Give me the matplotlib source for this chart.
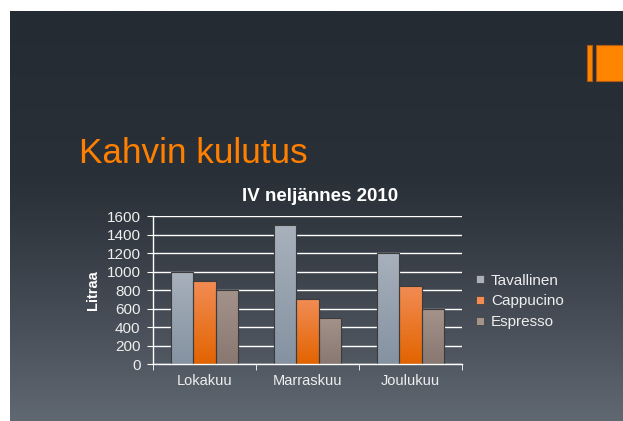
import numpy as np
import matplotlib
matplotlib.use("Agg")
import matplotlib.pyplot as plt
from matplotlib.patches import Rectangle
from matplotlib.lines import Line2D
from matplotlib.colors import LinearSegmentedColormap

plt.rcParams['font.family'] = ['Liberation Sans', 'DejaVu Sans']

# ---- data ----
months = ["Lokakuu", "Marraskuu", "Joulukuu"]
series_names = ["Tavallinen", "Cappucino", "Espresso"]
tavallinen = [1000, 1500, 1200]
cappucino = [900, 700, 850]
espresso = [800, 500, 600]
yticks = [0, 200, 400, 600, 800, 1000, 1200, 1400, 1600]
slide_title = "Kahvin kulutus"
chart_title = "IV neljännes 2010"
y_label = "Litraa"

W, H = 623, 421
fig = plt.figure(figsize=(W / 100, H / 100), dpi=100)
fig.patch.set_facecolor("white")

# ---- slide background ----
bg = fig.add_axes([0, 0, 1, 1])
bg.set_xlim(0, W)
bg.set_ylim(H, 0)
bg.axis("off")
ys = np.linspace(0, 1, 256)
top = np.array([37, 43, 51]) / 255
mid = np.array([42, 48, 56]) / 255
bot = np.array([96, 104, 114]) / 255
grad = np.zeros((256, 1, 3))
for i, t in enumerate(ys):
    if t < 0.4:
        c = top + (mid - top) * (t / 0.4)
    else:
        c = mid + (bot - mid) * ((t - 0.4) / 0.6) ** 1.2
    grad[i, 0, :] = c
bg.imshow(grad, extent=(10, W, H, 11), aspect="auto", interpolation="bilinear", zorder=0)
bg.add_patch(Rectangle((586.7, 45.3), 5.6, 35.4, facecolor="#ff8500", edgecolor="#b05a10", lw=0.8, zorder=2))
bg.add_patch(Rectangle((595.7, 45.3), 30, 35.4, facecolor="#ff8500", edgecolor="#b05a10", lw=0.8, zorder=2))
bg.text(79, 163.3, slide_title, color="#ff8000", fontsize=25.3, va="baseline", ha="left", zorder=3)

# ---- chart ----
ax = fig.add_axes([153 / W, 1 - 364.3 / H, 309 / W, 148.3 / H])
ax.set_facecolor("none")
x = np.arange(len(months))
bw = 0.215
off = 0.22

grads = [
    ("#a8b1bc", "#8592a1"),
    ("#f28c55", "#e26400"),
    ("#a3938b", "#887871"),
]
ax.set_xlim(-0.5, 2.5)
ax.set_ylim(0, 1600)
for k, (vals, (c1, c2)) in enumerate(zip([tavallinen, cappucino, espresso], grads)):
    bars = ax.bar(x + (k - 1) * off, vals, width=bw, color=c2, edgecolor="#3c3c3c", lw=0.8, zorder=3)
    cmap = LinearSegmentedColormap.from_list("g%d" % k, [c2, c1])
    for b in bars:
        x0, y0 = b.get_x(), b.get_y()
        w, h = b.get_width(), b.get_height()
        im = ax.imshow(np.linspace(0, 1, 100).reshape(-1, 1), cmap=cmap, origin="lower",
                       extent=(x0, x0 + w, y0, y0 + h), aspect="auto", zorder=3.5)
        im.set_clip_path(b)
        ax.add_patch(Rectangle((x0, y0), w, h, fill=False, edgecolor="#3c3c3c", lw=0.8, zorder=4))
ax.set_xlim(-0.5, 2.5)
ax.set_ylim(0, 1600)

ax.set_yticks(yticks)
ax.set_yticklabels([str(v) for v in yticks])
ax.yaxis.grid(True, color="white", lw=1, zorder=1)
ax.set_axisbelow(True)
ax.set_xticks(x)
ax.set_xticklabels(months)
ax.set_xticks([-0.5, 0.5, 1.5, 2.5], minor=True)
ax.tick_params(axis="x", which="major", length=0, pad=7, colors="#eeeeee", labelsize=10.5)
ax.tick_params(axis="x", which="minor", length=4, color="white", direction="out")
ax.tick_params(axis="y", length=4, color="white", direction="out", colors="#eeeeee", labelsize=11, pad=5)
for s in ["top", "right"]:
    ax.spines[s].set_visible(False)
for s in ["left", "bottom"]:
    ax.spines[s].set_color("white")
    ax.spines[s].set_linewidth(1)
    ax.spines[s].set_zorder(5)

ax.set_ylabel(y_label, color="white", fontsize=10.5, fontweight="bold", labelpad=5)
ax.set_title(chart_title, color="white", fontsize=13.5, fontweight="bold", pad=11, x=0.54)

handles = [Line2D([], [], ls="none", marker="s", markersize=6, markerfacecolor=c1,
                  markeredgecolor="#3c3c3c", markeredgewidth=0.5) for (c1, c2) in grads]
leg = fig.legend(handles, series_names, loc="center left", bbox_to_anchor=(468 / W, 1 - 301.5 / H),
                 frameon=False, fontsize=11, handlelength=0.6, handletextpad=0.4,
                 labelspacing=0.45, borderpad=0, labelcolor="#eeeeee")

fig.savefig("out.png", dpi=100)
